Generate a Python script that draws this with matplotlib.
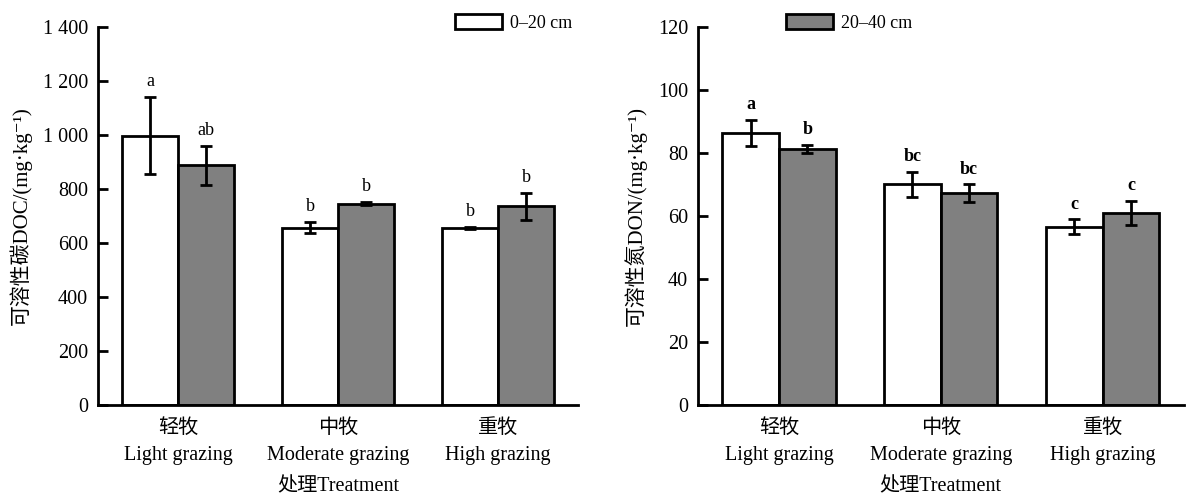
import matplotlib
matplotlib.use("Agg")
import matplotlib.pyplot as plt
from matplotlib.patches import Patch
import numpy as np

plt.rcParams['font.family'] = ['Liberation Serif', 'Noto Sans CJK SC', 'DejaVu Sans']

groups = ['轻牧\nLight grazing', '中牧\nModerate grazing', '重牧\nHigh grazing']
layers = ['0–20 cm', '20–40 cm']

# DOC (mg/kg)
doc_top = [998, 657, 655]
doc_top_err = [143, 20, 5]
doc_sub = [888, 746, 736]
doc_sub_err = [72, 5, 50]
doc_top_sig = ['a', 'b', 'b']
doc_sub_sig = ['ab', 'b', 'b']

# DON (mg/kg)
don_top = [86.4, 70.0, 56.6]
don_top_err = [4.1, 3.9, 2.3]
don_sub = [81.2, 67.2, 61.0]
don_sub_err = [1.3, 2.8, 3.7]
don_top_sig = ['a', 'bc', 'c']
don_sub_sig = ['b', 'bc', 'c']

fig = plt.figure(figsize=(11.86, 4.97), dpi=100)
ax1 = fig.add_axes([0.0826, 0.1851, 0.4048, 0.7606])
ax2 = fig.add_axes([0.5885, 0.1851, 0.4095, 0.7606])

w = 0.35
x = np.arange(len(groups))
white = '#ffffff'
grey = '#808080'


def draw(ax, top, top_err, sub, sub_err, top_sig, sub_sig, ymax, step, ylabel, bold):
    ax.bar(x - w / 2, top, w, color=white, edgecolor='black', linewidth=2)
    ax.bar(x + w / 2, sub, w, color=grey, edgecolor='black', linewidth=2)
    ax.errorbar(x - w / 2, top, yerr=top_err, fmt='none', ecolor='black',
                elinewidth=2, capsize=4.5, capthick=2)
    ax.errorbar(x + w / 2, sub, yerr=sub_err, fmt='none', ecolor='black',
                elinewidth=2, capsize=4.5, capthick=2)
    weight = 'bold' if bold else 'normal'
    for i in range(len(groups)):
        ax.annotate(top_sig[i], (x[i] - w / 2, top[i] + top_err[i]), xytext=(0, 5),
                    textcoords='offset points', ha='center', va='bottom',
                    fontsize=13, fontweight=weight)
        ax.annotate(sub_sig[i], (x[i] + w / 2, sub[i] + sub_err[i]), xytext=(0, 5),
                    textcoords='offset points', ha='center', va='bottom',
                    fontsize=13, fontweight=weight)
    ax.set_xlim(-0.5, 2.5)
    ax.set_ylim(0, ymax)
    ax.set_yticks(np.arange(0, ymax + 1, step))
    ax.set_xticks(x)
    ax.set_xticklabels(groups, fontsize=14.5, linespacing=1.55)
    ax.tick_params(axis='x', length=0, pad=10)
    ax.tick_params(axis='y', direction='in', length=7, width=2, labelsize=14.5, pad=7)
    for s in ['top', 'right']:
        ax.spines[s].set_visible(False)
    for s in ['left', 'bottom']:
        ax.spines[s].set_linewidth(2)
    ax.set_ylabel(ylabel, fontsize=15, labelpad=8)
    ax.set_xlabel('处理Treatment', fontsize=14.5, labelpad=9)


draw(ax1, doc_top, doc_top_err, doc_sub, doc_sub_err, doc_top_sig, doc_sub_sig,
     1400, 200, '可溶性碳DOC/(mg·kg⁻¹)', False)
ax1.yaxis.set_major_formatter(plt.FuncFormatter(
    lambda v, p: f'{int(v):,}'.replace(',', ' ')))
draw(ax2, don_top, don_top_err, don_sub, don_sub_err, don_top_sig, don_sub_sig,
     120, 20, '可溶性氮DON/(mg·kg⁻¹)', True)

h1 = Patch(facecolor=white, edgecolor='black', linewidth=2)
h2 = Patch(facecolor=grey, edgecolor='black', linewidth=2)
fig.legend([h1], [layers[0]], loc='upper left', bbox_to_anchor=(0.372, 1.0),
           frameon=False, fontsize=13, handlelength=2.6, handleheight=0.95,
           handletextpad=0.45, borderaxespad=0.35)
fig.legend([h2], [layers[1]], loc='upper left', bbox_to_anchor=(0.651, 1.0),
           frameon=False, fontsize=13, handlelength=2.6, handleheight=0.95,
           handletextpad=0.45, borderaxespad=0.35)

fig.savefig('out.png', dpi=100)
